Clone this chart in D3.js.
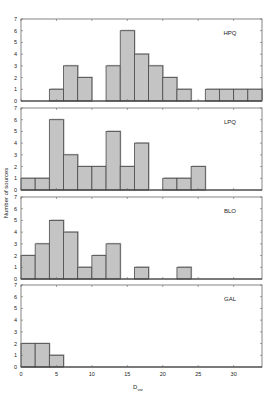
<!DOCTYPE html>
<html lang="en">
<head>
<meta charset="UTF-8">
<script src="https://cdn.jsdelivr.net/npm/d3@7"></script>
<style>
  body { margin: 0; background: #fff; }
  text { font-family: "Liberation Sans", Arial, sans-serif; fill: #222; }
</style>
</head>
<body>
<script>
// bin edges (width 2) and counts per sample
const binStarts = [0, 2, 4, 6, 8, 10, 12, 14, 16, 18, 20, 22, 24, 26, 28, 30, 32];
const hpq = [0, 0, 1, 3, 2, 0, 3, 6, 4, 3, 2, 1, 0, 1, 1, 1, 1];
const lpq = [1, 1, 6, 3, 2, 2, 5, 2, 4, 0, 1, 1, 2, 0, 0, 0, 0];
const blo = [2, 3, 5, 4, 1, 2, 3, 0, 1, 0, 0, 1, 0, 0, 0, 0, 0];
const gal = [2, 2, 1, 0, 0, 0, 0, 0, 0, 0, 0, 0, 0, 0, 0, 0, 0];
const panelNames = ["HPQ", "LPQ", "BLO", "GAL"];
const xTicks = [0, 5, 10, 15, 20, 25, 30];
const yTicks = [0, 1, 2, 3, 4, 5, 6, 7];

const W = 271, H = 393;
const left = 21, right = 262;
const panelTops = [19, 108, 197, 285];
const panelH = 82;

const svg = d3.select("body").append("svg")
  .attr("width", W).attr("height", H);

const x = d3.scaleLinear().domain([0, 34]).range([left, right]);

const series = [hpq, lpq, blo, gal];

series.forEach((vals, p) => {
  const top = panelTops[p];
  const y = d3.scaleLinear().domain([0, 7]).range([top + panelH, top]);
  const g = svg.append("g");

  // bars (shadow then bar)
  const bars = binStarts.map((b, i) => ({ x0: b, x1: b + 2, v: vals[i] })).filter(d => d.v > 0);
  g.selectAll("rect.shadow").data(bars).enter().append("rect")
    .attr("class", "shadow")
    .attr("x", d => x(d.x0) + 1)
    .attr("y", d => y(d.v) - 1)
    .attr("width", d => x(d.x1) - x(d.x0))
    .attr("height", d => y(0) - y(d.v))
    .attr("fill", "#b4b4b4");
  g.selectAll("rect.bar").data(bars).enter().append("rect")
    .attr("class", "bar")
    .attr("x", d => x(d.x0))
    .attr("y", d => y(d.v))
    .attr("width", d => x(d.x1) - x(d.x0))
    .attr("height", d => y(0) - y(d.v))
    .attr("fill", "#c4c4c4")
    .attr("stroke", "#4a4a4a")
    .attr("stroke-width", 0.8);

  // frame
  g.append("rect")
    .attr("x", left).attr("y", top)
    .attr("width", right - left).attr("height", panelH)
    .attr("fill", "none").attr("stroke", "#666").attr("stroke-width", 0.8);
  // baseline darker
  g.append("line")
    .attr("x1", left).attr("x2", right)
    .attr("y1", y(0)).attr("y2", y(0))
    .attr("stroke", "#333").attr("stroke-width", 1);

  // y ticks inside both sides
  yTicks.forEach(t => {
    g.append("line").attr("x1", left).attr("x2", left + 2)
      .attr("y1", y(t)).attr("y2", y(t)).attr("stroke", "#666").attr("stroke-width", 0.6);
    g.append("line").attr("x1", right).attr("x2", right - 2)
      .attr("y1", y(t)).attr("y2", y(t)).attr("stroke", "#666").attr("stroke-width", 0.6);
    g.append("text").attr("x", 17).attr("y", y(t) + 2)
      .attr("text-anchor", "end").attr("font-size", 5.5).text(t);
  });
  // x ticks inside top and bottom
  xTicks.forEach(t => {
    g.append("line").attr("x1", x(t)).attr("x2", x(t))
      .attr("y1", top).attr("y2", top + 2).attr("stroke", "#666").attr("stroke-width", 0.6);
    g.append("line").attr("x1", x(t)).attr("x2", x(t))
      .attr("y1", top + panelH).attr("y2", top + panelH - 2).attr("stroke", "#666").attr("stroke-width", 0.6);
  });

  g.append("text").attr("x", 230).attr("y", top + 16)
    .attr("text-anchor", "middle").attr("font-size", 6).text(panelNames[p]);
});

// bottom x labels
const bottom = panelTops[3] + panelH;
xTicks.forEach(t => {
  svg.append("text").attr("x", x(t)).attr("y", bottom + 9)
    .attr("text-anchor", "middle").attr("font-size", 5.5).text(t);
});

// axis titles
const xt = svg.append("text").attr("x", 138).attr("y", 389)
  .attr("text-anchor", "middle").attr("font-size", 6);
xt.append("tspan").text("D");
xt.append("tspan").attr("font-size", 4).attr("dy", 1.5).text("var");

svg.append("text")
  .attr("transform", "translate(8,193) rotate(-90)")
  .attr("text-anchor", "middle").attr("font-size", 6)
  .text("Number of sources");
</script>
</body>
</html>
